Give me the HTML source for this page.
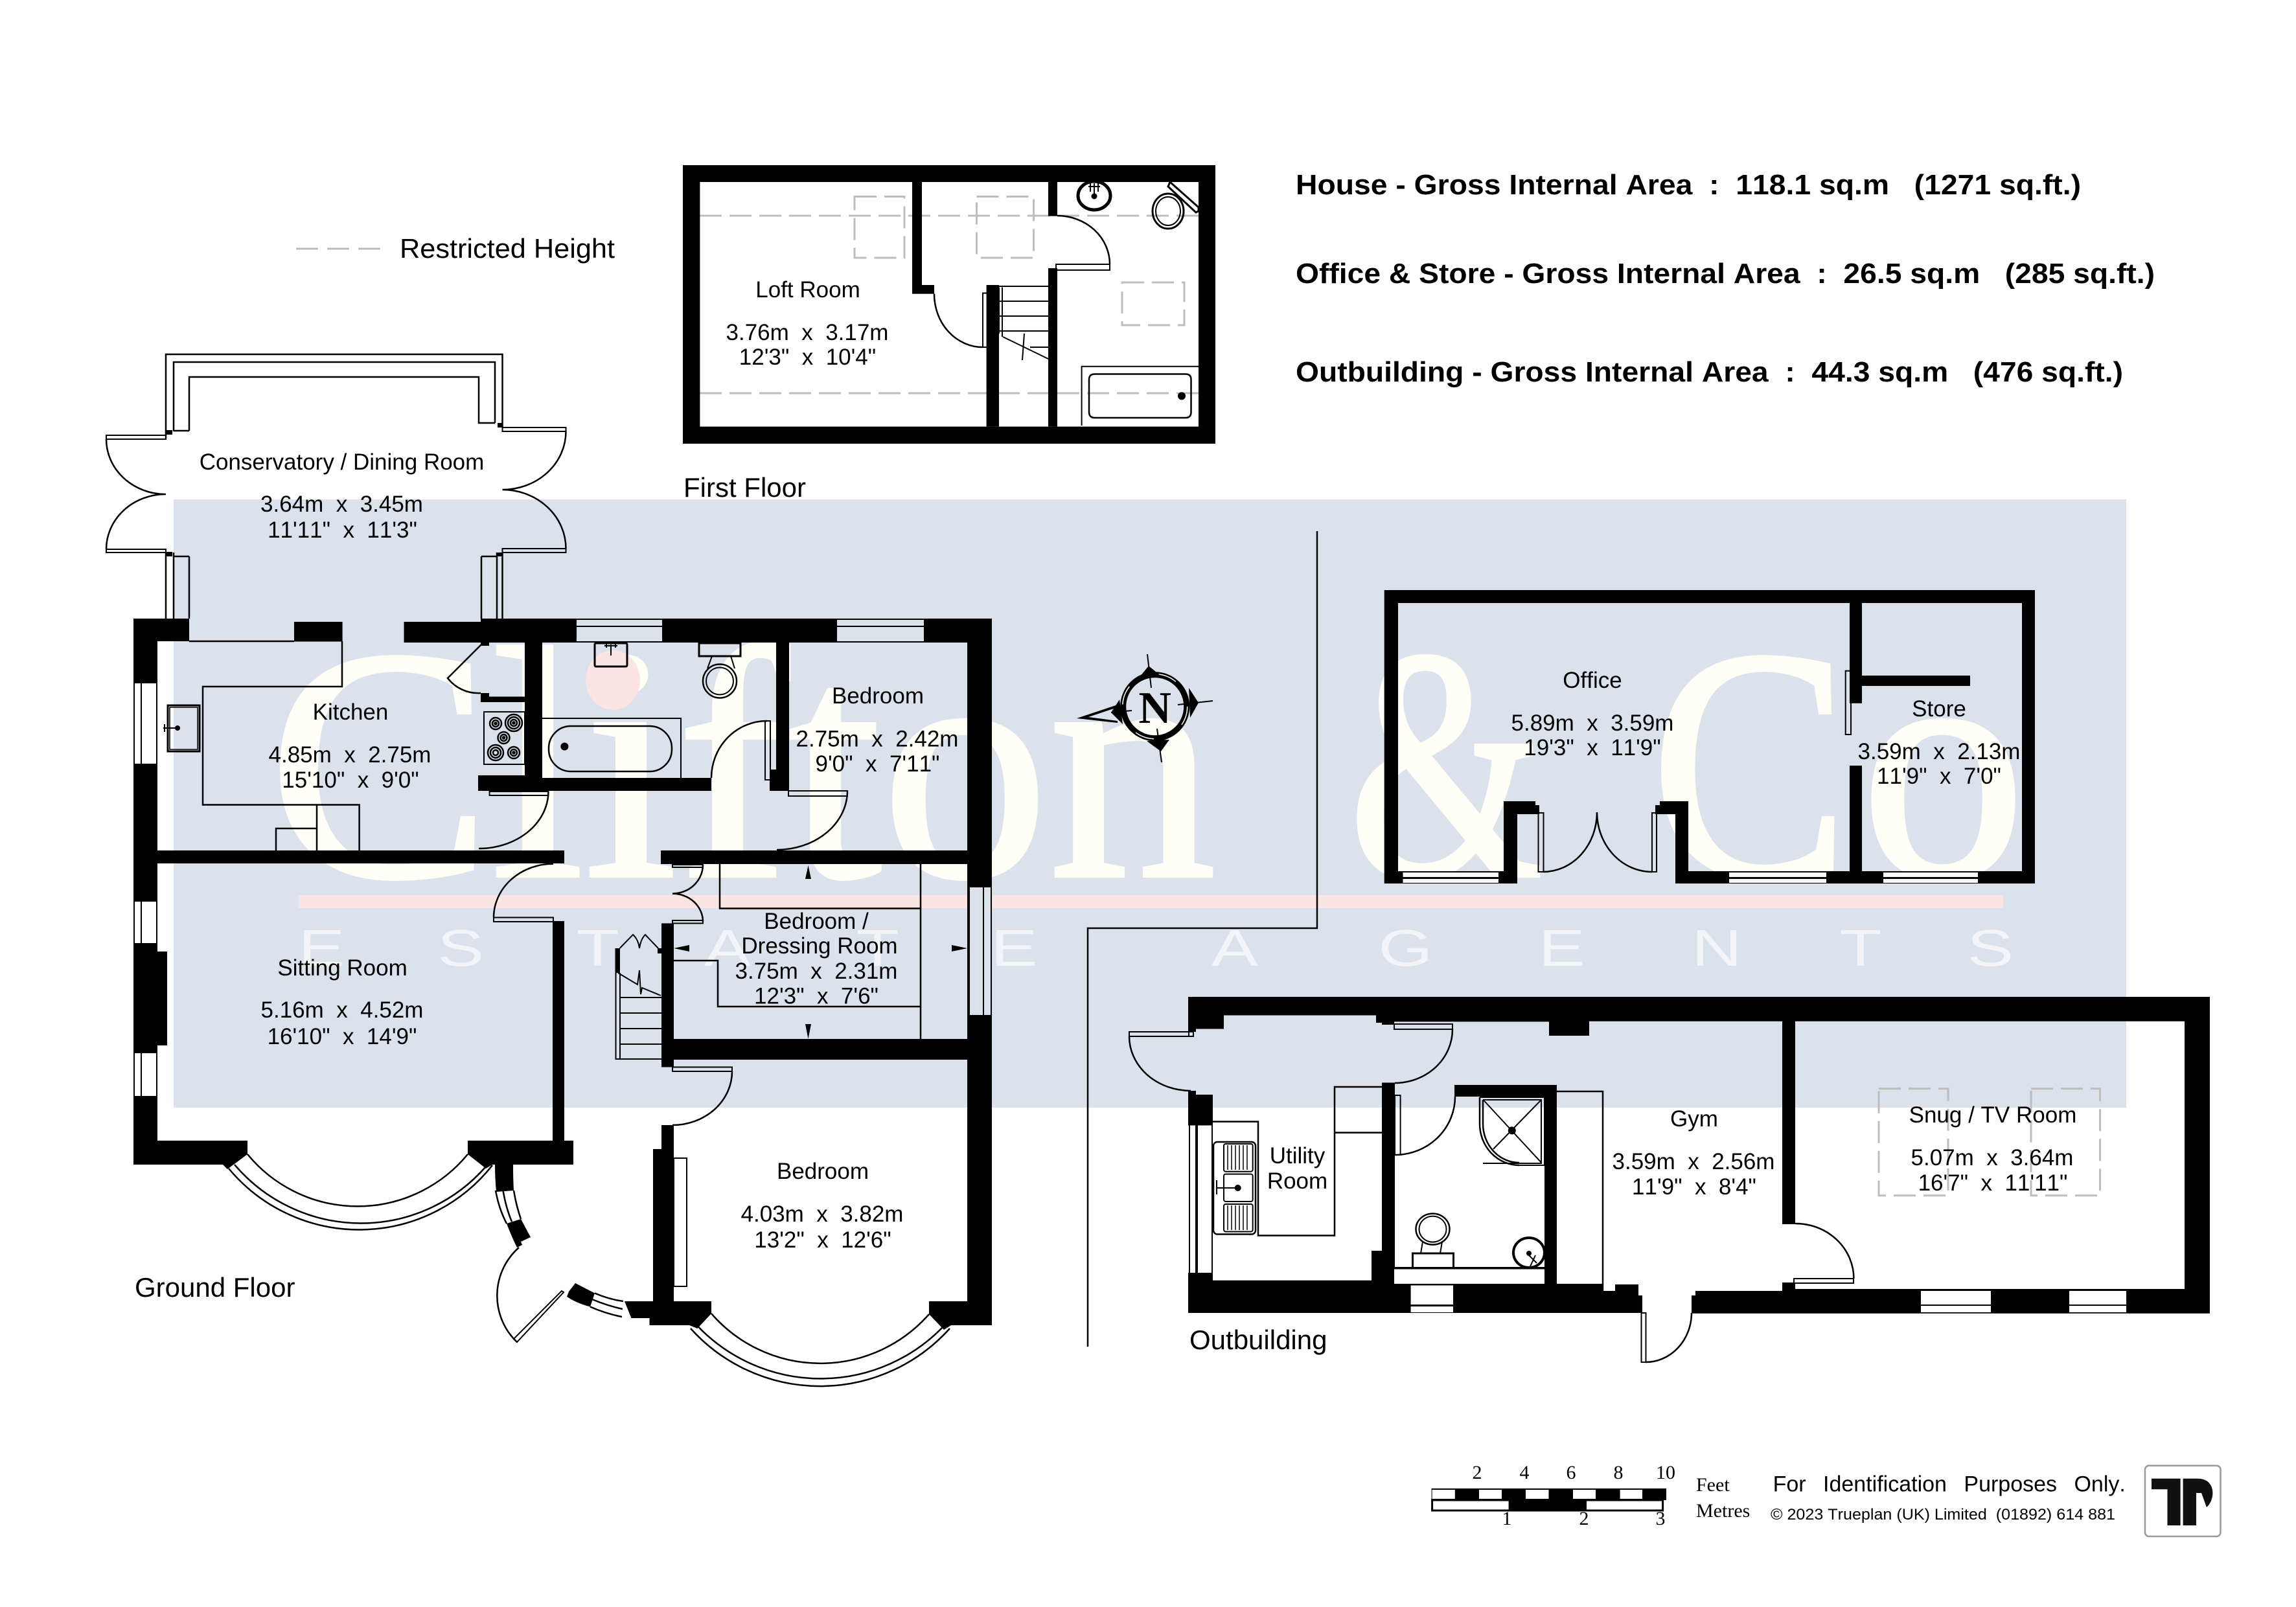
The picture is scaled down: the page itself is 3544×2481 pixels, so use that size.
<!DOCTYPE html>
<html><head><meta charset="utf-8"><style>
html,body{margin:0;padding:0;background:#fff}
svg{display:block}
text{font-family:"Liberation Sans",sans-serif;fill:#000;white-space:pre;font-kerning:none}
.c{text-anchor:middle;font-size:35px}
.f{font-size:42px}
.b{font-size:44px;font-weight:bold}
.t{font-family:"Liberation Serif",serif;font-size:30px}
.m{font-family:"Liberation Serif",serif;fill:#fffef7;stroke:#fffef7;stroke-width:6;font-size:510px}
.l{fill:none;stroke:#000;stroke-width:2.5}
.s{fill:none;stroke:#000;stroke-width:2}
.w{fill:#fff;stroke:#000;stroke-width:2}
.d{fill:none;stroke:#bdbdbd;stroke-width:3;stroke-dasharray:34 12}
</style></head><body>
<svg width="3544" height="2481" viewBox="0 0 3544 2481" xmlns="http://www.w3.org/2000/svg">
<rect width="3544" height="2481" fill="#fff"/>
<!-- watermark -->
<rect x="268" y="771" width="3014" height="939" fill="#dbe2eb"/>
<text class="m" x="414" y="1352" textLength="1463" lengthAdjust="spacingAndGlyphs">Clifton</text>
<text class="m" x="2082" y="1352" textLength="300" lengthAdjust="spacingAndGlyphs">&amp;</text>
<text class="m" x="2548" y="1352" textLength="306" lengthAdjust="spacingAndGlyphs">C</text>
<text class="m" x="2872" y="1352">o</text>
<ellipse cx="946" cy="1050" rx="42" ry="46" fill="#fde4e4"/>
<rect x="461" y="1382" width="2631" height="20" fill="#fde4e4"/>
<text y="1491" font-size="80" transform="scale(1.35 1)" x="341 500 659 805 979 1133 1385 1576 1759 1934 2103 2249" style="fill:#f2f4f7">ESTATEAGENTS</text>

<!-- diagonal boundary -->
<path class="l" d="M2033 820V1433H1679V2079" stroke-width="3"/>

<!-- legend -->
<path d="M457 384H588" fill="none" stroke="#bdbdbd" stroke-width="3" stroke-dasharray="34 14"/>
<text class="f" x="617" y="398" textLength="332" lengthAdjust="spacingAndGlyphs">Restricted Height</text>
<text class="b" x="2000" y="300" textLength="1212" lengthAdjust="spacingAndGlyphs">House - Gross Internal Area  :  118.1 sq.m   (1271 sq.ft.)</text>
<text class="b" x="2000" y="437" textLength="1326" lengthAdjust="spacingAndGlyphs">Office &amp; Store - Gross Internal Area  :  26.5 sq.m   (285 sq.ft.)</text>
<text class="b" x="2000" y="589" textLength="1277" lengthAdjust="spacingAndGlyphs">Outbuilding - Gross Internal Area  :  44.3 sq.m   (476 sq.ft.)</text>

<!-- FIRST FLOOR -->
<path class="d" d="M1080 333H1850M1080 607H1850"/>
<path class="d" d="M1319 303.5H1396V398H1319ZM1507.5 303.5H1595.5V398H1507.5ZM1732 436H1828V502H1732Z"/>
<path fill-rule="evenodd" d="M1054 255H1876V685H1054ZM1080.4 281V658.6H1850V281Z"/>
<path d="M1408 281H1423V440H1442V453.6H1408ZM1522.6 440H1542V658.6H1522.6ZM1618 281H1632V333.6H1618ZM1618 414H1632V658.6H1618Z"/>
<path class="s" d="M1542 442H1618M1542 465H1618M1542 488H1618M1542 511H1618M1590 536H1618M1547 443.6V520M1542 443.6V515M1548 520L1618 554M1581 515L1578 556"/>
<path class="s" d="M1517 452.5H1524V536H1517Z"/>
<path class="l" d="M1442 453.6A75 82 0 0 0 1517 536"/>
<path class="s" d="M1630 408H1713V417H1630Z"/>
<path class="l" d="M1632 333A81 75 0 0 1 1713 408"/>
<!-- basin/toilet/bath first floor -->
<ellipse cx="1689" cy="302" rx="25" ry="22" fill="none" stroke="#000" stroke-width="5"/>
<path class="s" d="M1683 283V296M1695 283V296M1680 288H1698M1689 283V302"/>
<circle cx="1689" cy="303" r="4.5"/>
<ellipse cx="1803" cy="326" rx="24" ry="27" fill="none" stroke="#000" stroke-width="3"/>
<ellipse cx="1803" cy="326" rx="19" ry="22" fill="none" stroke="#000" stroke-width="2"/>
<path d="M1806 281L1850 320V326L1846 328L1803 288Z" fill="#fff" stroke="#000" stroke-width="3"/>
<path class="s" d="M1669.6 657V565.7H1850"/>
<path class="l" d="M1690 577.5H1830Q1838.5 577.5 1838.5 586V636Q1838.5 645 1830 645H1690Q1681 645 1681 636V586Q1681 577.5 1690 577.5Z"/>
<ellipse cx="1824" cy="611.4" rx="6" ry="6"/>
<text class="c" x="1247" y="459">Loft Room</text>
<text class="c" x="1246" y="525">3.76m  x  3.17m</text>
<text class="c" x="1246.5" y="563">12'3"  x  10'4"</text>
<text class="f" x="1055" y="767">First Floor</text>

<!-- GROUND FLOOR conservatory -->
<path class="l" d="M256 677V547H775.5V660M268 666V559H764V653M292 665V582H739V653H764M268 665H292"/>
<path d="M256 664H266V671H256ZM768 653H775.5V660H768ZM256 852H266V859H256ZM768 853H775.5V859H768Z"/>
<path class="s" d="M164 672H256V678H164ZM164 848H256V853H164ZM775.5 660H873.5V666H775.5ZM775.5 847H873.5V853H775.5Z"/>
<path class="l" d="M164 678A92 85 0 0 0 256 763M164 848A92 85 0 0 1 256 763M873.5 666A98 90 0 0 1 775.5 756M775.5 756A98 91 0 0 1 873.5 847"/>
<path class="l" d="M256 853V955M268 853V955M292 859V955M268 859H292M743 859V955M767 853V955M775.5 853V955M743 859H767"/>

<!-- house walls -->
<path d="M206 955H292V990H243V1761H382V1782L351 1805L344 1798H206Z"/>
<path d="M243 1469H258V1614H243Z"/>
<path d="M454 960H528.6V990.5H454ZM623.5 960H742V955H1493V992H623.5Z"/>
<path d="M810 992H837V1201H1098V1221H738V1197H810Z"/>
<path d="M1198 992H1218V1221H1188V1201H1198Z"/>
<path d="M243 1313H871V1333H243ZM1020 1313H1494V1334H1020Z"/>
<path d="M1493 955H1531V2046H1468L1457 2053L1434 2029V2009H1493Z"/>
<path d="M1021 1425.5H1040V1604H1493V1636H1040V1647.5H1021Z"/>
<path d="M853 1422H871V1761H885V1798H760L750 1804L722 1782V1761H853Z"/>
<path d="M1021 1737H1040V2009H1098V2028L1076.5 2051L1064 2046H1002.5V2035H974.5L964 2009H1008V1774H1021Z"/>
<path d="M764 1798H792Q792 1820 793 1838L766 1840Q764 1820 764 1798Z"/>
<path d="M782 1889L804 1882L819 1910L804 1917L806 1922L798 1926Q790 1910 782 1889Z"/>
<path d="M888 1981L918 1996.5L911 2017.5Q890 2012 875 2002L878 1994Z"/>
<path d="M742 990H755V997H742ZM742 1070H755V1075.5H811V1084H742Z"/>
<path d="M950.5 1464H957V1502H950.5ZM1015 1464H1021V1472H1015Z"/>
<path d="M1188 1188H1198V1210H1188Z"/>
<!-- windows: west -->
<g class="w">
<rect x="207" y="1054" width="35" height="126" fill="#fff"/><path class="s" d="M218 1054V1180M207 1054H242M207 1180H242" stroke="#000" stroke-width="2"/>
<rect x="207" y="1391" width="35" height="66" fill="#fff"/><path class="s" d="M218 1391V1457"/>
<rect x="207" y="1625" width="35" height="68" fill="#fff"/><path class="s" d="M218 1625V1693"/>
</g>
<!-- windows north with panel fill -->
<rect x="890" y="956" width="132" height="35" fill="#dbe2eb"/><path class="s" d="M890 956H1022M890 967H1022M890 991H1022"/>
<rect x="1292" y="956" width="134" height="35" fill="#dbe2eb"/><path class="s" d="M1292 956H1426M1292 967H1426M1292 991H1426"/>
<!-- window east -->
<rect x="1496" y="1369" width="34" height="199" fill="#dbe2eb"/><path class="s" d="M1496 1369H1530V1568H1496ZM1518 1369V1568"/>
<!-- bays -->
<path class="l" d="M382 1782A220 220 0 0 0 722 1782M353 1804A262 262 0 0 0 760 1799M362 1798A256 256 0 0 0 750 1801"/>
<path class="l" d="M1098 2028A223 223 0 0 0 1434 2029M1076.5 2047A263 263 0 0 0 1457 2047M1066 2051A269 269 0 0 0 1466 2051"/>
<!-- entry window and door -->
<path class="l" d="M765 1838Q770 1866 782 1889M793 1838Q797 1862 804 1882M776.5 1838Q781 1865 790 1886"/>
<path class="l" d="M911 2017.5Q935 2028 960 2033M918 1996.5Q940 2006 962 2009M914 2006Q938 2016 961 2021"/>
<path class="l" d="M801 1926A99 99 0 0 0 798 2072"/>
<path class="s" d="M793 2067L798 2072L870 1995L867 1993Z"/>
<!-- door leaves and swings -->
<path class="s" d="M755.6 1222H846.4V1228H755.6Z"/><path class="l" d="M846.4 1222A107 88 0 0 1 739 1310"/>
<path class="s" d="M762 1416.5H854V1423H762Z"/><path class="l" d="M854 1333.6A92 83 0 0 0 762 1416.5"/>
<path class="s" d="M1181 1113H1189V1204H1181Z"/><path class="l" d="M1098 1201A86 88 0 0 1 1183.7 1113"/>
<path class="s" d="M1217 1221H1308V1229H1217Z"/><path class="l" d="M1308 1221A109 91 0 0 1 1199 1312"/>
<path class="s" d="M1038 1335H1085V1339H1038ZM1038 1421H1085V1425.5H1038Z"/><path class="l" d="M1085 1335A47 44.6 0 0 1 1038 1379.6M1038 1379.6A47 43.4 0 0 1 1085 1423"/>
<path class="s" d="M1038 1647.5H1130V1654H1038Z"/><path class="l" d="M1130 1654A92 83 0 0 1 1038 1737"/>
<!-- cupboard -->
<path class="l" d="M744 994L691 1047A60 60 0 0 0 742 1070"/>
<!-- kitchen -->
<path class="l" d="M292 990H454M528 990V1060H313V1242.5H554.6V1313M489 1242.5V1313M426 1313V1279H489"/>
<rect x="259" y="1089" width="49" height="71" fill="none" stroke="#000" stroke-width="3"/><rect x="262" y="1092" width="43" height="65" fill="none" stroke="#000" stroke-width="1.5"/>
<path class="s" d="M252 1124H274M254 1118V1130"/><circle cx="274" cy="1124" r="4"/>
<rect x="747" y="1099" width="63" height="81" fill="none" stroke="#000" stroke-width="2"/>
<g fill="none" stroke="#000" stroke-width="2.5">
<circle cx="765" cy="1117" r="9"/><circle cx="765" cy="1117" r="5"/><circle cx="765" cy="1117" r="1.5"/>
<circle cx="793" cy="1116" r="13"/><circle cx="793" cy="1116" r="9"/><circle cx="793" cy="1116" r="5"/><circle cx="793" cy="1116" r="1.5"/>
<circle cx="777.5" cy="1139" r="9"/><circle cx="777.5" cy="1139" r="5"/><circle cx="777.5" cy="1139" r="1.5"/>
<circle cx="765" cy="1162" r="12"/><circle cx="765" cy="1162" r="8"/><circle cx="765" cy="1162" r="4"/>
<circle cx="793" cy="1162" r="9"/><circle cx="793" cy="1162" r="5"/><circle cx="793" cy="1162" r="1.5"/>
</g>
<!-- bathroom -->
<path class="s" d="M837 1109H1051V1201"/>
<rect x="847" y="1121" width="190" height="70" rx="34" fill="none" stroke="#000" stroke-width="2.5"/>
<circle cx="871.4" cy="1152.5" r="6"/>
<rect x="918" y="993" width="50" height="36" rx="2" fill="none" stroke="#000" stroke-width="3"/>
<path class="s" d="M933 997H953M943 995V1012M936 994V1000M950 994V1000"/>
<rect x="1079" y="993" width="64" height="20" fill="none" stroke="#000" stroke-width="3"/>
<path class="s" d="M1099 1013L1092 1032M1128 1013L1134 1032"/>
<circle cx="1111" cy="1051.5" r="26" fill="none" stroke="#000" stroke-width="2.5"/><circle cx="1111" cy="1051.5" r="21" fill="none" stroke="#000" stroke-width="2"/>
<!-- wardrobes -->
<path class="l" d="M1111 1334V1402.5H1420M1421 1334V1604M1040 1483H1108V1554H1421"/>
<path d="M1247.5 1336L1243 1357H1252ZM1243 1581H1252L1247.5 1604ZM1040 1464L1064 1459V1469ZM1469 1459L1493 1464L1469 1469Z"/>
<!-- stairs -->
<path class="s" d="M950.5 1464V1635H1021M957 1502V1635M957 1540H1021M957 1564H1021M957 1588H1021M957 1612H1021M954 1502L984 1520L987 1498L989 1535L991 1525L1020 1537M956.6 1464L977 1443Q985 1450 987 1464Q989 1450 996 1443L1016 1464"/>
<rect x="1040" y="1788" width="20" height="198" fill="none" stroke="#000" stroke-width="2"/>
<text class="c" x="527.5" y="725">Conservatory / Dining Room</text>
<text class="c" x="527.5" y="790">3.64m  x  3.45m</text>
<text class="c" x="528.5" y="830">11'11"  x  11'3"</text>
<text class="c" x="541" y="1111">Kitchen</text>
<text class="c" x="540" y="1177">4.85m  x  2.75m</text>
<text class="c" x="541" y="1216">15'10"  x  9'0"</text>
<text class="c" x="528.6" y="1506">Sitting Room</text>
<text class="c" x="528" y="1571">5.16m  x  4.52m</text>
<text class="c" x="528" y="1612">16'10"  x  14'9"</text>
<text class="c" x="1355" y="1086">Bedroom</text>
<text class="c" x="1354" y="1152.5">2.75m  x  2.42m</text>
<text class="c" x="1354.5" y="1191">9'0"  x  7'11"</text>
<text class="c" x="1260" y="1434">Bedroom /</text>
<text class="c" x="1265" y="1472">Dressing Room</text>
<text class="c" x="1260" y="1511">3.75m  x  2.31m</text>
<text class="c" x="1260" y="1549.5">12'3"  x  7'6"</text>
<text class="c" x="1270" y="1820">Bedroom</text>
<text class="c" x="1269" y="1886">4.03m  x  3.82m</text>
<text class="c" x="1270" y="1926">13'2"  x  12'6"</text>
<text class="f" x="208" y="2002">Ground Floor</text>

<!-- compass -->
<g>
<circle cx="1782.7" cy="1090.7" r="50" fill="none" stroke="#000" stroke-width="7"/>
<circle cx="1782.7" cy="1090.7" r="50" fill="none" stroke="#fff" stroke-width="1.5" stroke-dasharray="30 50"/>
<circle cx="1782.7" cy="1090.7" r="46" fill="none" stroke="#000" stroke-width="3"/>
<path d="M1773 1028L1760 1044L1790 1042ZM1850 1085L1835 1062L1837 1108ZM1792 1160L1770 1144L1805 1142ZM1715 1100L1728 1080L1733 1118Z"/>
<path d="M1662 1109L1725 1088L1725 1092L1680 1107L1725 1113V1116Z"/>
<path class="s" d="M1771 1010L1777 1062M1818 1088L1872 1082M1786 1125L1793 1177M1715 1100L1747 1097"/>
<text x="1782.7" y="1116" text-anchor="middle" font-size="70" font-weight="bold" style="font-family:'Liberation Serif',serif">N</text>
</g>

<!-- OFFICE -->
<path d="M2136.7 911H3141V1364H2586V1257H2555V1243H2562V1237H2606V1345H3121V931H2158V1345H2321V1237H2370V1243H2376V1257H2342V1364H2136.7Z"/>
<path d="M2855 931H2874V1043H3041V1059H2874V1085.7H2855ZM2855 1182H2874V1345H2855Z"/>
<path class="s" d="M2848.7 1035.7H2857V1134H2848.7ZM2374.5 1255H2382.5V1346H2374.5ZM2550 1255H2557V1346H2550Z"/>
<path class="l" d="M2382 1346A83 92 0 0 0 2465 1254M2550 1346A85 92 0 0 1 2465 1254"/>
<g fill="#f6f8fa"><rect x="2165.5" y="1347" width="147.5" height="7"/><rect x="2165.5" y="1357" width="147.5" height="6"/><rect x="2669" y="1347" width="150" height="7"/><rect x="2669" y="1357" width="150" height="6"/><rect x="2907" y="1347" width="146" height="7"/><rect x="2907" y="1357" width="146" height="6"/></g>
<text class="c" x="2458" y="1062">Office</text>
<text class="c" x="2458" y="1128">5.89m  x  3.59m</text>
<text class="c" x="2458" y="1166">19'3"  x  11'9"</text>
<text class="c" x="2993" y="1106">Store</text>
<text class="c" x="2993" y="1172">3.59m  x  2.13m</text>
<text class="c" x="2993" y="1210">11'9"  x  7'0"</text>

<!-- OUTBUILDING -->
<path class="d" d="M2900 1680.7H3007V1845.7H2900ZM3135 1680.7H3241.5V1845.7H3135Z"/>
<path d="M1834 1539H3411V2027.7H2611V2000H2617V1993H2751V1980H2771V1990H3372V1576.7H2771V1890H2751V1576.7H2453V1599H2391V1577.4H2152V1582H2133V1579H2124V1567.5H1889V1588.5H1846V1593H1836V1601H1834Z"/>
<path d="M1834 1684H1846V1690H1872V1737.5H1834ZM1834 1965H1872V1976.7H2117V1931H2133V1671.5H2153V1982H2384V1693H2245V1675H2403V1982H2474V1993H2493V1983H2529V2000H2535V2027H1834Z"/>
<rect x="2152" y="1959" width="232" height="23" fill="#fff"/>
<path d="M2152 1956H2384V1959.5H2152Z"/>
<g fill="#fff">
<rect x="2177.6" y="1984.5" width="65.4" height="29.5"/><rect x="2177.6" y="2017" width="65.4" height="9"/>
<rect x="2965" y="1993" width="108" height="21"/><rect x="2965" y="2016" width="108" height="10"/>
<rect x="3194" y="1993" width="88" height="21"/><rect x="3194" y="2016" width="88" height="10"/>
</g>
<rect x="1834" y="1737.5" width="38" height="227.5" fill="#fff"/>
<path class="s" d="M1836 1737.5V1965M1846 1737.5V1965M1848 1737.5V1965M1871 1737.5V1965"/>
<path class="s" d="M1743 1593H1842V1600H1743Z"/>
<path class="l" d="M1743 1600A95 84 0 0 0 1838 1684"/>
<path class="s" d="M2152 1581H2242V1589H2152Z"/>
<path class="l" d="M2242 1589A89 83 0 0 1 2153 1672"/>
<path class="s" d="M2153 1691H2161.6V1783H2153Z"/>
<path class="l" d="M2153 1783A93 90 0 0 0 2246 1693"/>
<path class="s" d="M2769 1974H2861V1981H2769Z"/>
<path class="l" d="M2861.4 1974A90 85 0 0 0 2771 1889"/>
<path class="s" d="M2533.5 2027H2540.5V2103H2533.5Z"/>
<path class="l" d="M2540 2103A71 76 0 0 0 2611 2027"/>
<path class="l" d="M2403 1685H2474V1993M2133 1678H2060V1907.5H1942V1731.6H1872M2060 1748.6H2133"/>
<!-- utility sink -->
<rect x="1873" y="1763" width="65" height="142.5" rx="6" fill="none" stroke="#000" stroke-width="2.5"/>
<rect x="1889" y="1766" width="44.7" height="42.7" rx="3" fill="none" stroke="#000" stroke-width="2"/>
<rect x="1889" y="1812.6" width="44.7" height="42.4" rx="3" fill="none" stroke="#000" stroke-width="2"/>
<rect x="1889" y="1859" width="44.7" height="42.5" rx="3" fill="none" stroke="#000" stroke-width="2"/>
<path stroke="#000" stroke-width="1.5" fill="none" d="M1895 1768V1806M1901 1768V1806M1907 1768V1806M1913 1768V1806M1919 1768V1806M1925 1768V1806M1895 1861V1899M1901 1861V1899M1907 1861V1899M1913 1861V1899M1919 1861V1899M1925 1861V1899"/>
<circle cx="1910.7" cy="1834" r="5"/><path class="s" d="M1877 1834H1910M1878 1822V1844"/>
<!-- shower -->
<path class="s" d="M2284 1694H2384V1799H2345M2289 1698H2379V1796H2289"/>
<path class="l" d="M2284 1694V1735A61 64 0 0 0 2345 1799M2289 1698V1735A56 60 0 0 0 2345 1795"/>
<path class="s" d="M2289.5 1698L2379.7 1795.6M2379 1698L2305 1774"/>
<circle cx="2333.8" cy="1745.4" r="6"/>
<!-- toilet -->
<ellipse cx="2211.5" cy="1897.6" rx="26" ry="24" fill="none" stroke="#000" stroke-width="2.5"/>
<ellipse cx="2211.5" cy="1897.6" rx="21" ry="20" fill="none" stroke="#000" stroke-width="2"/>
<rect x="2180.5" y="1935" width="63" height="23" fill="none" stroke="#000" stroke-width="3"/>
<path class="s" d="M2196 1917L2193 1935M2226 1917L2223 1935"/>
<!-- basin -->
<ellipse cx="2360" cy="1934" rx="24" ry="23" fill="none" stroke="#000" stroke-width="4"/>
<circle cx="2360" cy="1935" r="4"/><path class="s" d="M2360 1938L2372 1950M2370 1938L2362 1955"/>
<text class="c" x="2002.5" y="1796">Utility</text>
<text class="c" x="2002.5" y="1835">Room</text>
<text class="c" x="2615" y="1739">Gym</text>
<text class="c" x="2614" y="1805">3.59m  x  2.56m</text>
<text class="c" x="2615" y="1844">11'9"  x  8'4"</text>
<text class="c" x="3076" y="1733">Snug / TV Room</text>
<text class="c" x="3075" y="1799">5.07m  x  3.64m</text>
<text class="c" x="3076" y="1838">16'7"  x  11'11"</text>
<text class="f" x="1836" y="2083">Outbuilding</text>

<!-- scale -->
<rect x="2209.6" y="2298" width="362.4" height="18"/>
<g fill="#fff"><rect x="2210.6" y="2300" width="35.2" height="14"/><rect x="2283" y="2300" width="35" height="14"/><rect x="2355" y="2300" width="35.5" height="14"/><rect x="2428" y="2300" width="35" height="14"/><rect x="2500.6" y="2300" width="34.4" height="14"/></g>
<rect x="2210.6" y="2316" width="356" height="16" fill="#fff" stroke="#000" stroke-width="3"/>
<rect x="2328.6" y="2316" width="120.4" height="16"/>
<g text-anchor="middle">
<text class="t" x="2280" y="2283">2</text><text class="t" x="2353" y="2283">4</text><text class="t" x="2425" y="2283">6</text><text class="t" x="2498" y="2283">8</text><text class="t" x="2571" y="2283">10</text>
<text class="t" x="2326" y="2354">1</text><text class="t" x="2445" y="2354">2</text><text class="t" x="2563" y="2354">3</text>
</g>
<text class="t" x="2618" y="2302">Feet</text>
<text class="t" x="2618" y="2342">Metres</text>
<text x="2736.6" y="2302.7" font-size="34" word-spacing="17">For Identification Purposes Only.</text>
<text x="2733" y="2346" font-size="24" textLength="532" lengthAdjust="spacingAndGlyphs">© 2023 Trueplan (UK) Limited  (01892) 614 881</text>
<rect x="3311" y="2262.7" width="116.5" height="109.3" rx="6" fill="#fff" stroke="#999" stroke-width="2.5"/>
<path fill="#111" d="M3321 2282.7H3365.6V2355H3345.5V2299.3H3321ZM3369.6 2282.7H3392C3410 2282.7 3415.4 2295 3415.4 2305C3415.4 2313 3412 2322 3406 2327L3398 2305H3390V2355H3369.6Z"/>
</svg>
</body></html>
